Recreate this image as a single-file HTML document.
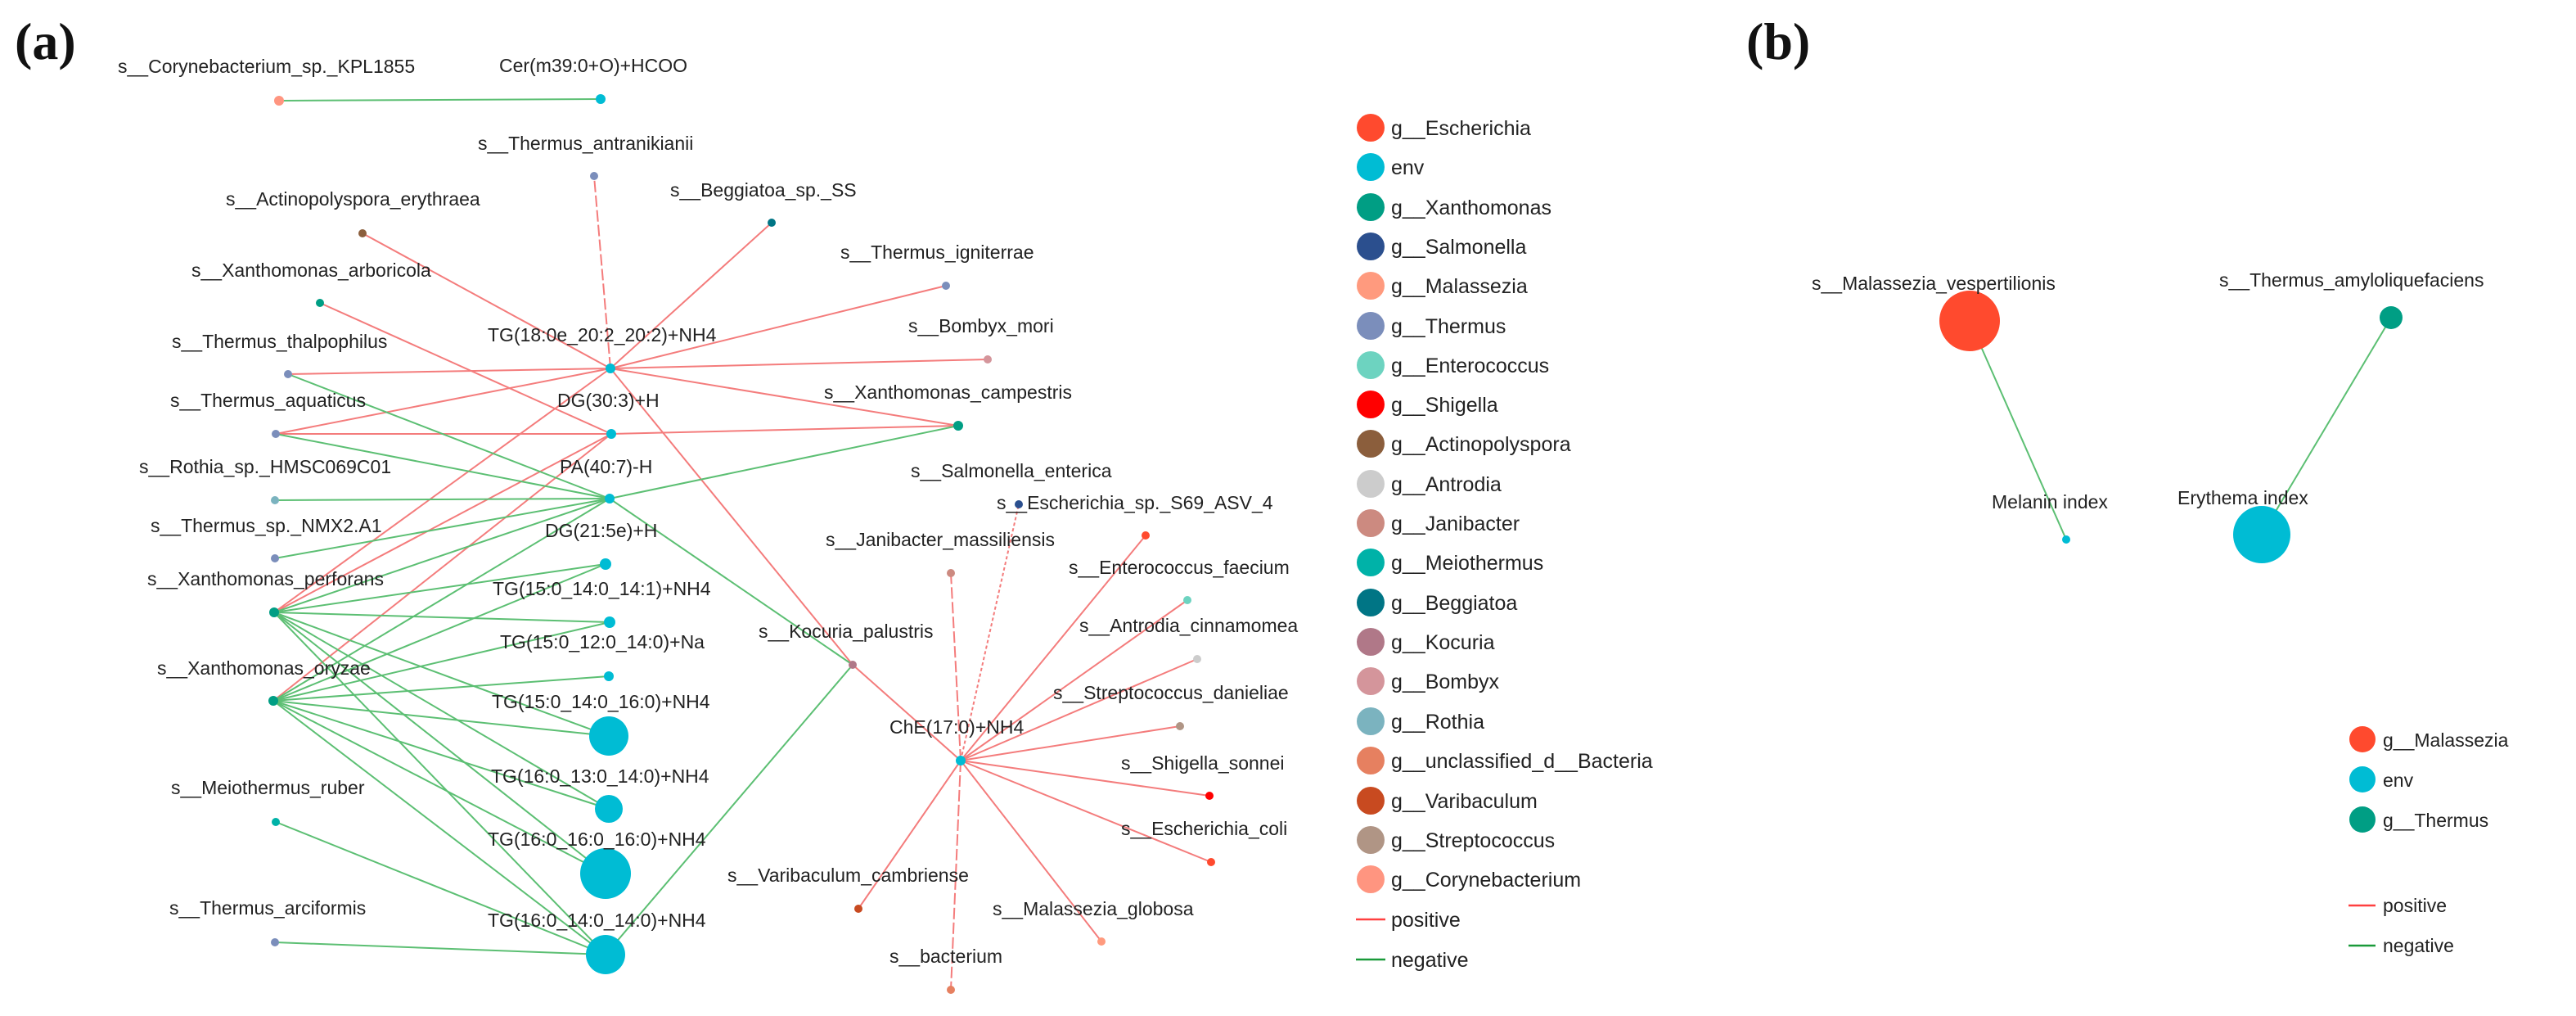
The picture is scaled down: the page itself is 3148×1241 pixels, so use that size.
<!DOCTYPE html>
<html><head><meta charset="utf-8"><style>
html,body{margin:0;padding:0;background:#fff;}
svg{display:block;}
text{font-family:"Liberation Sans",Arial,sans-serif;font-size:23px;fill:#222;}
.lg{font-size:25px;}
.t{font-family:"Liberation Serif",serif;font-weight:bold;font-size:64px;fill:#111;}
.p{stroke:#f47c7c;stroke-width:2;fill:none;}
.n{stroke:#5cbf73;stroke-width:2;fill:none;}
</style></head><body>
<svg width="3148" height="1241" viewBox="0 0 3148 1241" xmlns="http://www.w3.org/2000/svg">
<text class="t" x="18" y="72">(a)</text>
<text class="t" x="2134" y="72">(b)</text>

<line class="n" x1="341" y1="123" x2="734" y2="121"/>
<line class="p" x1="746" y1="450" x2="726" y2="215" stroke-dasharray="14,4"/>
<line class="p" x1="746" y1="450" x2="943" y2="272"/>
<line class="p" x1="746" y1="450" x2="1156" y2="349"/>
<line class="p" x1="746" y1="450" x2="1207" y2="439"/>
<line class="p" x1="746" y1="450" x2="1171" y2="520"/>
<line class="p" x1="746" y1="450" x2="443" y2="285"/>
<line class="p" x1="746" y1="450" x2="352" y2="457"/>
<line class="p" x1="746" y1="450" x2="337" y2="530"/>
<line class="p" x1="746" y1="450" x2="335" y2="748"/>
<line class="p" x1="746" y1="450" x2="1042" y2="812"/>
<line class="p" x1="747" y1="530" x2="391" y2="370"/>
<line class="p" x1="747" y1="530" x2="337" y2="530"/>
<line class="p" x1="747" y1="530" x2="1171" y2="520"/>
<line class="p" x1="747" y1="530" x2="335" y2="748"/>
<line class="p" x1="747" y1="530" x2="334" y2="856"/>
<line class="n" x1="745" y1="609" x2="352" y2="457"/>
<line class="n" x1="745" y1="609" x2="337" y2="530"/>
<line class="n" x1="745" y1="609" x2="336" y2="611"/>
<line class="n" x1="745" y1="609" x2="336" y2="682"/>
<line class="n" x1="745" y1="609" x2="335" y2="748"/>
<line class="n" x1="745" y1="609" x2="334" y2="856"/>
<line class="n" x1="745" y1="609" x2="1171" y2="520"/>
<line class="n" x1="745" y1="609" x2="1042" y2="812"/>
<line class="n" x1="335" y1="748" x2="740" y2="689"/>
<line class="n" x1="335" y1="748" x2="745" y2="760"/>
<line class="n" x1="335" y1="748" x2="744" y2="899"/>
<line class="n" x1="335" y1="748" x2="744" y2="988"/>
<line class="n" x1="335" y1="748" x2="740" y2="1067"/>
<line class="n" x1="335" y1="748" x2="740" y2="1166"/>
<line class="n" x1="334" y1="856" x2="740" y2="689"/>
<line class="n" x1="334" y1="856" x2="745" y2="760"/>
<line class="n" x1="334" y1="856" x2="744" y2="826"/>
<line class="n" x1="334" y1="856" x2="744" y2="899"/>
<line class="n" x1="334" y1="856" x2="744" y2="988"/>
<line class="n" x1="334" y1="856" x2="740" y2="1067"/>
<line class="n" x1="334" y1="856" x2="740" y2="1166"/>
<line class="n" x1="337" y1="1004" x2="740" y2="1166"/>
<line class="n" x1="336" y1="1151" x2="740" y2="1166"/>
<line class="n" x1="1042" y1="812" x2="740" y2="1166"/>
<line class="p" x1="1042" y1="812" x2="1174" y2="929"/>
<line class="p" x1="1174" y1="929" x2="1245" y2="616" stroke-dasharray="4,3"/>
<line class="p" x1="1174" y1="929" x2="1162" y2="700" stroke-dasharray="14,4"/>
<line class="p" x1="1174" y1="929" x2="1400" y2="654"/>
<line class="p" x1="1174" y1="929" x2="1451" y2="733"/>
<line class="p" x1="1174" y1="929" x2="1463" y2="805"/>
<line class="p" x1="1174" y1="929" x2="1442" y2="887"/>
<line class="p" x1="1174" y1="929" x2="1478" y2="972"/>
<line class="p" x1="1174" y1="929" x2="1480" y2="1053"/>
<line class="p" x1="1174" y1="929" x2="1346" y2="1150"/>
<line class="p" x1="1174" y1="929" x2="1162" y2="1209" stroke-dasharray="14,4"/>
<line class="p" x1="1174" y1="929" x2="1049" y2="1110"/>

<g>
<circle cx="341" cy="123" r="6" fill="#FF9580"/>
<circle cx="734" cy="121" r="6" fill="#00BCD4"/>
<circle cx="726" cy="215" r="5" fill="#7B8EBB"/>
<circle cx="443" cy="285" r="5" fill="#8B5E3C"/>
<circle cx="391" cy="370" r="5" fill="#009E84"/>
<circle cx="352" cy="457" r="5" fill="#7B8EBB"/>
<circle cx="337" cy="530" r="5" fill="#7B8EBB"/>
<circle cx="336" cy="611" r="5" fill="#7BB3BF"/>
<circle cx="336" cy="682" r="5" fill="#7B8EBB"/>
<circle cx="335" cy="748" r="6" fill="#009E84"/>
<circle cx="334" cy="856" r="6" fill="#009E84"/>
<circle cx="337" cy="1004" r="5" fill="#00B2A8"/>
<circle cx="336" cy="1151" r="5" fill="#7B8EBB"/>
<circle cx="746" cy="450" r="6" fill="#00BCD4"/>
<circle cx="747" cy="530" r="6" fill="#00BCD4"/>
<circle cx="745" cy="609" r="6" fill="#00BCD4"/>
<circle cx="740" cy="689" r="7" fill="#00BCD4"/>
<circle cx="745" cy="760" r="7" fill="#00BCD4"/>
<circle cx="744" cy="826" r="6" fill="#00BCD4"/>
<circle cx="744" cy="899" r="24" fill="#00BCD4"/>
<circle cx="744" cy="988" r="17" fill="#00BCD4"/>
<circle cx="740" cy="1067" r="31" fill="#00BCD4"/>
<circle cx="740" cy="1166" r="24" fill="#00BCD4"/>
<circle cx="943" cy="272" r="5" fill="#007585"/>
<circle cx="1156" cy="349" r="5" fill="#7B8EBB"/>
<circle cx="1207" cy="439" r="5" fill="#D4959B"/>
<circle cx="1171" cy="520" r="6" fill="#009E84"/>
<circle cx="1042" cy="812" r="5" fill="#B07888"/>
<circle cx="1174" cy="929" r="6" fill="#00BCD4"/>
<circle cx="1245" cy="616" r="5" fill="#2B4F8E"/>
<circle cx="1162" cy="700" r="5" fill="#CC8A80"/>
<circle cx="1400" cy="654" r="5" fill="#FF4A2E"/>
<circle cx="1451" cy="733" r="5" fill="#6DD3C0"/>
<circle cx="1463" cy="805" r="5" fill="#CCCCCC"/>
<circle cx="1442" cy="887" r="5" fill="#B09585"/>
<circle cx="1478" cy="972" r="5" fill="#FF0000"/>
<circle cx="1480" cy="1053" r="5" fill="#FF4A2E"/>
<circle cx="1346" cy="1150" r="5" fill="#FF9A7E"/>
<circle cx="1162" cy="1209" r="5" fill="#E68060"/>
<circle cx="1049" cy="1110" r="5" fill="#C84A20"/>
</g>

<text x="144" y="89">s__Corynebacterium_sp._KPL1855</text>
<text x="610" y="88">Cer(m39:0+O)+HCOO</text>
<text x="584" y="183">s__Thermus_antranikianii</text>
<text x="276" y="251">s__Actinopolyspora_erythraea</text>
<text x="234" y="338">s__Xanthomonas_arboricola</text>
<text x="210" y="425">s__Thermus_thalpophilus</text>
<text x="596" y="417">TG(18:0e_20:2_20:2)+NH4</text>
<text x="208" y="497">s__Thermus_aquaticus</text>
<text x="681" y="497">DG(30:3)+H</text>
<text x="170" y="578">s__Rothia_sp._HMSC069C01</text>
<text x="684" y="578">PA(40:7)-H</text>
<text x="184" y="650">s__Thermus_sp._NMX2.A1</text>
<text x="666" y="656">DG(21:5e)+H</text>
<text x="180" y="715">s__Xanthomonas_perforans</text>
<text x="602" y="727">TG(15:0_14:0_14:1)+NH4</text>
<text x="611" y="792">TG(15:0_12:0_14:0)+Na</text>
<text x="192" y="824">s__Xanthomonas_oryzae</text>
<text x="601" y="865">TG(15:0_14:0_16:0)+NH4</text>
<text x="600" y="956">TG(16:0_13:0_14:0)+NH4</text>
<text x="209" y="970">s__Meiothermus_ruber</text>
<text x="596" y="1033">TG(16:0_16:0_16:0)+NH4</text>
<text x="207" y="1117">s__Thermus_arciformis</text>
<text x="596" y="1132">TG(16:0_14:0_14:0)+NH4</text>
<text x="819" y="240">s__Beggiatoa_sp._SS</text>
<text x="1027" y="316">s__Thermus_igniterrae</text>
<text x="1110" y="406">s__Bombyx_mori</text>
<text x="1007" y="487">s__Xanthomonas_campestris</text>
<text x="1113" y="583">s__Salmonella_enterica</text>
<text x="1218" y="622">s__Escherichia_sp._S69_ASV_4</text>
<text x="1009" y="667">s__Janibacter_massiliensis</text>
<text x="1306" y="701">s__Enterococcus_faecium</text>
<text x="927" y="779">s__Kocuria_palustris</text>
<text x="1319" y="772">s__Antrodia_cinnamomea</text>
<text x="1287" y="854">s__Streptococcus_danieliae</text>
<text x="1087" y="896">ChE(17:0)+NH4</text>
<text x="1370" y="940">s__Shigella_sonnei</text>
<text x="1370" y="1020">s__Escherichia_coli</text>
<text x="889" y="1077">s__Varibaculum_cambriense</text>
<text x="1213" y="1118">s__Malassezia_globosa</text>
<text x="1087" y="1176">s__bacterium</text>

<g class="lg">
<circle cx="1675" cy="156" r="17" fill="#FF4A2E"/><text class="lg" x="1700" y="165">g__Escherichia</text>
<circle cx="1675" cy="204" r="17" fill="#00BCD4"/><text class="lg" x="1700" y="213">env</text>
<circle cx="1675" cy="253" r="17" fill="#009E84"/><text class="lg" x="1700" y="262">g__Xanthomonas</text>
<circle cx="1675" cy="301" r="17" fill="#2B4F8E"/><text class="lg" x="1700" y="310">g__Salmonella</text>
<circle cx="1675" cy="349" r="17" fill="#FF9A7E"/><text class="lg" x="1700" y="358">g__Malassezia</text>
<circle cx="1675" cy="398" r="17" fill="#7B8EBB"/><text class="lg" x="1700" y="407">g__Thermus</text>
<circle cx="1675" cy="446" r="17" fill="#6DD3C0"/><text class="lg" x="1700" y="455">g__Enterococcus</text>
<circle cx="1675" cy="494" r="17" fill="#FF0000"/><text class="lg" x="1700" y="503">g__Shigella</text>
<circle cx="1675" cy="542" r="17" fill="#8B5E3C"/><text class="lg" x="1700" y="551">g__Actinopolyspora</text>
<circle cx="1675" cy="591" r="17" fill="#CCCCCC"/><text class="lg" x="1700" y="600">g__Antrodia</text>
<circle cx="1675" cy="639" r="17" fill="#CC8A80"/><text class="lg" x="1700" y="648">g__Janibacter</text>
<circle cx="1675" cy="687" r="17" fill="#00B2A8"/><text class="lg" x="1700" y="696">g__Meiothermus</text>
<circle cx="1675" cy="736" r="17" fill="#007585"/><text class="lg" x="1700" y="745">g__Beggiatoa</text>
<circle cx="1675" cy="784" r="17" fill="#B07888"/><text class="lg" x="1700" y="793">g__Kocuria</text>
<circle cx="1675" cy="832" r="17" fill="#D4959B"/><text class="lg" x="1700" y="841">g__Bombyx</text>
<circle cx="1675" cy="881" r="17" fill="#7BB3BF"/><text class="lg" x="1700" y="890">g__Rothia</text>
<circle cx="1675" cy="929" r="17" fill="#E68060"/><text class="lg" x="1700" y="938">g__unclassified_d__Bacteria</text>
<circle cx="1675" cy="978" r="17" fill="#C84A20"/><text class="lg" x="1700" y="987">g__Varibaculum</text>
<circle cx="1675" cy="1026" r="17" fill="#B09585"/><text class="lg" x="1700" y="1035">g__Streptococcus</text>
<circle cx="1675" cy="1074" r="17" fill="#FF9580"/><text class="lg" x="1700" y="1083">g__Corynebacterium</text>
<line x1="1657" y1="1123" x2="1693" y2="1123" stroke="#ff4040" stroke-width="2.5"/><text class="lg" x="1700" y="1132">positive</text>
<line x1="1657" y1="1172" x2="1693" y2="1172" stroke="#1a9a3a" stroke-width="2.5"/><text class="lg" x="1700" y="1181">negative</text>
</g>

<line class="n" x1="2407" y1="392" x2="2525" y2="659"/>
<line class="n" x1="2922" y1="388" x2="2764" y2="653"/>
<circle cx="2407" cy="392" r="37" fill="#FF4A2E"/>
<circle cx="2922" cy="388" r="14" fill="#009E84"/>
<circle cx="2525" cy="659" r="5" fill="#00BCD4"/>
<circle cx="2764" cy="653" r="35" fill="#00BCD4"/>
<text x="2214" y="354">s__Malassezia_vespertilionis</text>
<text x="2712" y="350">s__Thermus_amyloliquefaciens</text>
<text x="2434" y="621">Melanin index</text>
<text x="2661" y="616">Erythema index</text>
<circle cx="2887" cy="903" r="16" fill="#FF4A2E"/><text x="2912" y="912">g__Malassezia</text>
<circle cx="2887" cy="952" r="16" fill="#00BCD4"/><text x="2912" y="961">env</text>
<circle cx="2887" cy="1001" r="16" fill="#009E84"/><text x="2912" y="1010">g__Thermus</text>
<line x1="2870" y1="1106" x2="2903" y2="1106" stroke="#ff4040" stroke-width="2.5"/><text x="2912" y="1114">positive</text>
<line x1="2870" y1="1155" x2="2903" y2="1155" stroke="#1a9a3a" stroke-width="2.5"/><text x="2912" y="1163">negative</text>
</svg>
</body></html>
